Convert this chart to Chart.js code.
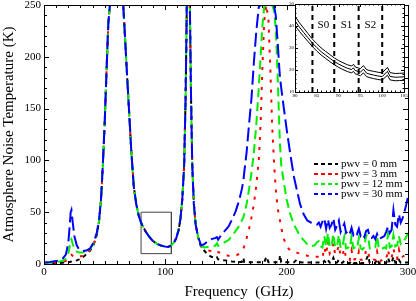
<!DOCTYPE html>
<html>
<head>
<meta charset="utf-8">
<script src="https://cdn.jsdelivr.net/npm/chart.js@4.4.1/dist/chart.umd.min.js"></script>
<style>
  html, body { margin: 0; padding: 0; background: #fff; }
  #wrap { position: relative; width: 416px; height: 301px; }
  #main { position: absolute; left: 0; top: 0; }
  #inset { position: absolute; left: 280px; top: 0; }
</style>
</head>
<body>
<div id="wrap">
  <canvas id="main" width="416" height="301"></canvas>
  <canvas id="inset" width="130" height="104"></canvas>
</div>
<script>
// --- dados do gráfico principal (GHz / K) ---
const freqMain = [0, 5, 10, 15, 18, 20, 21, 22, 22.6, 23.5,
  25, 27, 29, 32, 35, 38, 41, 43.5, 45.5, 47,
  48.5, 50, 51.5, 53, 54.3, 60, 65.3, 66.5, 68, 70,
  72, 74, 76, 78, 80, 82, 84, 86, 88, 90,
  93, 96, 99, 102, 104.5, 107, 109, 111, 112.5, 114,
  115.5, 116.7, 117.7, 120.2, 121.2, 122.2, 123.5, 125, 127, 129.5,
  132, 135, 138, 141, 142.5, 143.5, 146, 149, 152, 155,
  158, 161, 163, 164.3, 165, 167, 169, 171, 173, 175,
  177, 178.5, 180, 181.5, 183.3, 185, 186.5, 188, 189.5, 191,
  192.5, 194, 194.5, 195.5, 197.5, 200, 203, 206, 208.3, 211,
  214, 217, 220, 223, 225];

const pwv0Main = [0.5, 0.6, 0.8, 1.2, 1.5, 1.8, 2, 2.2, 2.3, 2.5,
  2.9, 3.5, 4.5, 6.5, 9.5, 13, 19, 28, 42, 62,
  95, 135, 185, 232, 250, 250, 250, 225, 192, 150,
  108, 75, 58, 47, 40, 35, 31, 27.5, 24.5, 22,
  19.5, 18, 17, 16.5, 17.5, 20.5, 25, 33, 44, 63,
  95, 160, 250, 250, 160, 95, 58, 38, 26, 16,
  13, 9, 7, 5.5, 6.5, 4.5, 4, 3.5, 3, 2.5,
  2.2, 2, 2, 6, 2, 2, 1.8, 1.8, 1.8, 1.8,
  1.8, 1.8, 1.8, 1.8, 7, 1.8, 1.8, 1.8, 1.8, 1.8,
  1.8, 1.8, 8.5, 1.8, 1.8, 1.7, 1.7, 1.6, 4, 1.6,
  1.5, 1.5, 1.5, 1.5, 1.5];

const pwv3Main = [0.8, 1, 1.3, 2, 3, 4.5, 6, 8.5, 9, 8,
  7, 6.5, 7, 8, 10, 13.5, 19, 28, 42, 62,
  95, 135, 185, 232, 250, 250, 250, 225, 192, 150,
  108, 75, 58, 47, 40, 35, 31, 27.5, 24.5, 22,
  19.5, 18, 17, 16.5, 17.5, 20.5, 25, 33, 44, 63,
  95, 160, 250, 250, 160, 95, 58, 38, 26, 17,
  14.5, 13, 12.5, 12, 13, 11.5, 10.5, 9, 8, 7.5,
  8, 10, 13, 15, 17, 25, 34, 45, 58, 76,
  100, 135, 190, 235, 250, 235, 190, 135, 100, 72,
  55, 44, 42, 35, 25, 17, 13, 12, 11, 10,
  9, 8, 7, 7, 7];

const pwv12Main = [1, 1.3, 1.8, 3, 5, 10, 16, 23, 24, 20,
  15, 12, 11, 11, 12, 14.5, 20, 29, 43, 63,
  95, 135, 185, 232, 250, 250, 250, 225, 192, 150,
  108, 75, 58, 47, 40, 35, 31, 27.5, 24.5, 22,
  19.5, 18, 17, 16.5, 17.5, 20.5, 25, 33, 44, 63,
  95, 160, 250, 250, 160, 95, 58, 38, 26, 17.5,
  16, 16.5, 17, 17.5, 20, 17.5, 19, 21, 23, 27,
  32, 37, 42, 45, 48, 58, 72, 88, 108, 135,
  170, 200, 230, 248, 250, 250, 250, 250, 245, 228,
  185, 130, 115, 96, 80, 62, 48, 38, 33, 27,
  23, 19, 17, 18, 21];

const pwv30Main = [1.5, 2, 2.8, 4.5, 9, 20, 34, 50, 52, 42,
  27, 18, 14, 12.5, 13, 15, 21, 30, 44, 63,
  96, 136, 185, 232, 250, 250, 250, 225, 192, 150,
  108, 75, 58, 47, 40, 35, 31, 27.5, 24.5, 22,
  19.5, 18, 17, 16.5, 17.5, 20.5, 25, 33, 44, 63,
  95, 160, 250, 250, 160, 95, 58, 38, 26, 18,
  19, 22, 24, 25, 26, 23.5, 28, 32, 36, 43,
  51, 62, 72, 80, 88, 108, 135, 160, 195, 225,
  248, 250, 250, 250, 250, 250, 250, 250, 250, 240,
  215, 188, 180, 170, 152, 130, 106, 84, 72, 58,
  48, 42, 40, 39, 38];

// --- região ruidosa (linhas de ozônio), 226.5 a 300 GHz ---
const freqNoise = [226.5, 228, 229.5, 231, 232.5, 234, 235.5, 237, 238.5, 240,
  241.5, 243, 244.5, 246, 247.5, 249, 250.5, 252, 253.5, 255,
  256.5, 258, 259.5, 261, 262.5, 264, 265.5, 267, 268.5, 270,
  271.5, 273, 274.5, 276, 277.5, 279, 280.5, 282, 283.5, 285,
  286.5, 288, 289.5, 291, 292.5, 294, 295.5, 297, 298.5, 300];

const pwv0Noise = [1.5, 1.2, 1.2, 3, 1.2, 4, 1.2, 1.5, 6, 1.2,
  1.3, 4, 1.2, 1.2, 3, 1, 1, 1, 3, 1,
  1, 1, 2.5, 1, 1, 1, 4, 8, 1, 1,
  1, 1, 5, 1, 1, 1, 1.2, 1, 6, 1,
  1.2, 7, 1.2, 1.2, 4, 1.2, 1.5, 1.5, 1.5, 1.5];

const pwv3Noise = [7, 5, 6, 16, 9, 22, 10, 13, 20, 9,
  12, 18, 7, 9, 15, 5, 6, 4, 13, 4,
  5, 4, 12, 4, 4, 5, 14, 13, 4, 3,
  4, 4, 12, 4, 3, 4, 5, 4, 14, 5,
  6, 15, 6, 5, 14, 6, 7, 8, 9, 10];

const pwv12Noise = [22, 17, 16, 27, 17, 30, 16, 18, 29, 16,
  17, 28, 15, 17, 26, 15, 16, 15, 27, 15,
  16, 15, 25, 15, 14, 16, 28, 27, 15, 14,
  15, 16, 27, 15, 14, 15, 16, 15, 29, 16,
  17, 28, 17, 18, 27, 19, 20, 23, 26, 30];

const pwv30Noise = [40, 36, 41, 44, 34, 43, 35, 38, 44, 33,
  37, 42, 31, 35, 39, 30, 32, 29, 35, 28,
  31, 29, 34, 27, 29, 26, 32, 33, 26, 25,
  27, 24, 29, 24, 25, 26, 27, 31, 36, 30,
  33, 52, 38, 36, 48, 40, 44, 50, 57, 65];

const pwvLabels = ['pwv = 0 mm', 'pwv = 3 mm', 'pwv = 12 mm', 'pwv = 30 mm'];
const xTickValues = [0, 100, 200, 300];
const yTickValues = [0, 50, 100, 150, 200, 250];

// retângulo de zoom no gráfico principal
const boxFreq = [80, 80, 105, 105, 80];
const boxTemp = [10, 50, 50, 10, 10];

// --- dados do inset (80-105 GHz) ---
const insetFreq = [80, 81, 82, 83, 84, 85, 86, 87, 88, 89,
  90, 91, 92, 93, 93.4, 93.8, 95, 95.7, 96.4, 97,
  98, 99, 100, 101.2, 101.8, 103, 104, 105];
const insetUpper = [44.5, 41.5, 39, 36.5, 34, 32, 30, 28.5, 27, 25.5,
  24.3, 23.3, 22.4, 21.8, 22.6, 21.4, 20.6, 22, 20.2, 19.8,
  19.4, 19, 18.7, 21.2, 18.8, 18.4, 18.5, 18.6];
const insetMiddle = [42.3, 39.5, 37, 34.6, 32.2, 30.2, 28.3, 26.8, 25.3, 23.9,
  22.7, 21.7, 20.8, 20.2, 21, 19.8, 19, 20.4, 18.6, 18.2,
  17.7, 17.3, 17, 19.4, 17.1, 16.7, 16.8, 16.9];
const insetLower = [40.2, 37.6, 35.2, 32.9, 30.6, 28.6, 26.8, 25.3, 23.8, 22.4,
  21.2, 20.2, 19.3, 18.7, 19.4, 18.3, 17.4, 18.7, 17, 16.6,
  16.1, 15.7, 15.4, 17.6, 15.5, 15.1, 15.2, 15.3];
const sbandEdges = [84, 89, 94.6, 100];
const sbandLabels = ['S0', 'S1', 'S2'];

// --- estilo ---
const SERIF = '"Liberation Serif", "Times New Roman", serif';
const seriesColors = ['#000000', '#ff0000', '#00ee00', '#0000ff'];
const seriesDash = [[4, 4], [3, 7], [9, 5], [14, 5]];

const toPoints = (xs, ys) => xs.map((x, i) => ({ x, y: ys[i] }));
const freqAll = freqMain.concat(freqNoise);
const seriesValues = [
  pwv0Main.concat(pwv0Noise),
  pwv3Main.concat(pwv3Noise),
  pwv12Main.concat(pwv12Noise),
  pwv30Main.concat(pwv30Noise)
];

// ticks para dentro nos quatro lados + moldura
function drawFrame(chart, o) {
  const { ctx, chartArea: a, scales: { x, y } } = chart;
  ctx.save();
  ctx.strokeStyle = '#000';
  ctx.lineWidth = o.lineWidth;
  ctx.beginPath();
  const nx = Math.round((x.max - x.min) / o.xMinor);
  for (let i = 0; i <= nx; i++) {
    const v = x.min + i * o.xMinor;
    const px = Math.round(x.getPixelForValue(v)) + 0.5;
    const len = (Math.abs(v / o.xMajor - Math.round(v / o.xMajor)) < 1e-6) ? o.major : o.minor;
    ctx.moveTo(px, a.bottom); ctx.lineTo(px, a.bottom - len);
    ctx.moveTo(px, a.top); ctx.lineTo(px, a.top + len);
  }
  const ny = Math.round((y.max - y.min) / o.yMinor);
  for (let i = 0; i <= ny; i++) {
    const v = y.min + i * o.yMinor;
    const py = Math.round(y.getPixelForValue(v)) + 0.5;
    const len = (Math.abs(v / o.yMajor - Math.round(v / o.yMajor)) < 1e-6) ? o.major : o.minor;
    ctx.moveTo(a.left, py); ctx.lineTo(a.left + len, py);
    ctx.moveTo(a.right, py); ctx.lineTo(a.right - len, py);
  }
  ctx.stroke();
  ctx.strokeRect(Math.round(a.left) + 0.5, Math.round(a.top) + 0.5,
    Math.round(a.right - a.left), Math.round(a.bottom - a.top));
  ctx.restore();
}

const mainDecor = {
  id: 'mainDecor',
  afterDatasetsDraw(chart) {
    drawFrame(chart, { lineWidth: 1, xMinor: 10, xMajor: 100, yMinor: 10, yMajor: 50, major: 5, minor: 3 });
    const ctx = chart.ctx;
    ctx.save();
    // legenda
    ctx.font = '11px ' + SERIF;
    ctx.textBaseline = 'middle';
    ctx.fillStyle = '#000';
    ctx.lineWidth = 2;
    for (let i = 0; i < 4; i++) {
      const ds = chart.data.datasets[i];
      const yy = 164 + i * 10;
      ctx.strokeStyle = ds.borderColor;
      ctx.setLineDash([4, 3]);
      ctx.beginPath();
      ctx.moveTo(314, yy); ctx.lineTo(338, yy);
      ctx.stroke();
      ctx.fillText(ds.label, 341, yy + 0.5);
    }
    ctx.setLineDash([]);
    // título do eixo x
    ctx.font = '15px ' + SERIF;
    ctx.textAlign = 'center';
    ctx.fillText('Frequency  (GHz)', 239, 292);
    ctx.restore();
  }
};

const datasets = seriesValues.map((vals, i) => ({
  label: pwvLabels[i],
  data: toPoints(freqAll, vals),
  borderColor: seriesColors[i],
  borderWidth: 2,
  borderDash: seriesDash[i],
  pointRadius: 0,
  fill: false,
  order: 3 - i
}));
datasets.push({
  label: 'zoom',
  data: toPoints(boxFreq, boxTemp),
  borderColor: '#444',
  borderWidth: 1,
  pointRadius: 0,
  fill: false,
  order: 9
});

new Chart(document.getElementById('main'), {
  type: 'line',
  data: { datasets },
  options: {
    responsive: false,
    animation: false,
    events: [],
    layout: { padding: { top: 5, right: 8, left: 0, bottom: 0 } },
    plugins: { legend: { display: false }, tooltip: { enabled: false } },
    scales: {
      x: {
        type: 'linear', min: 0, max: 300,
        afterBuildTicks: s => { s.ticks = xTickValues.map(v => ({ value: v })); },
        ticks: { color: '#000', font: { family: SERIF, size: 11 }, padding: 2, maxRotation: 0 },
        grid: { display: false, drawTicks: false },
        border: { display: false },
        afterFit: s => { s.height = 37; s.paddingLeft = 0; s.paddingRight = 0; }
      },
      y: {
        type: 'linear', min: 0, max: 250,
        afterBuildTicks: s => { s.ticks = yTickValues.map(v => ({ value: v })); },
        ticks: { color: '#000', font: { family: SERIF, size: 11 }, padding: 3 },
        grid: { display: false, drawTicks: false },
        border: { display: false },
        title: {
          display: true, text: 'Atmosphere Noise Temperature (K)', color: '#000',
          font: { family: SERIF, size: 15 }, padding: { top: 0, bottom: 0 }
        },
        afterFit: s => { s.width = 44; s.paddingTop = 0; s.paddingBottom = 0; }
      }
    }
  },
  plugins: [mainDecor]
});

// --- inset ---
const insetDecor = {
  id: 'insetDecor',
  beforeDatasetsDraw(chart) {
    const { ctx, chartArea: a } = chart;
    ctx.save();
    ctx.fillStyle = '#fff';
    ctx.fillRect(a.left, a.top, a.right - a.left, a.bottom - a.top);
    ctx.restore();
  },
  afterDatasetsDraw(chart) {
    drawFrame(chart, { lineWidth: 1, xMinor: 1, xMajor: 5, yMinor: 2, yMajor: 10, major: 3, minor: 1.5 });
    const { ctx, scales: { x, y } } = chart;
    ctx.save();
    ctx.font = '11px ' + SERIF;
    ctx.fillStyle = '#000';
    ctx.textAlign = 'center';
    ctx.textBaseline = 'middle';
    sbandLabels.forEach((t, i) => {
      const mid = (sbandEdges[i] + sbandEdges[i + 1]) / 2;
      ctx.fillText(t, x.getPixelForValue(mid), y.getPixelForValue(40.5));
    });
    ctx.restore();
  }
};

const insetSets = [insetUpper, insetMiddle, insetLower].map(vals => ({
  data: toPoints(insetFreq, vals),
  borderColor: '#000',
  borderWidth: 1,
  pointRadius: 0,
  fill: false
}));
sbandEdges.forEach(f => insetSets.push({
  data: toPoints([f, f], [10, 50]),
  borderColor: '#000',
  borderWidth: 2,
  borderDash: [5, 4],
  pointRadius: 0,
  fill: false
}));

new Chart(document.getElementById('inset'), {
  type: 'line',
  data: { datasets: insetSets },
  options: {
    responsive: false,
    animation: false,
    events: [],
    layout: { padding: { top: 4, right: 6, left: 0, bottom: 0 } },
    plugins: { legend: { display: false }, tooltip: { enabled: false } },
    scales: {
      x: {
        type: 'linear', min: 80, max: 105,
        ticks: { stepSize: 5, color: '#000', font: { family: SERIF, size: 5 }, padding: 1, maxRotation: 0 },
        grid: { display: false, drawTicks: false },
        border: { display: false },
        afterFit: s => { s.height = 12; s.paddingLeft = 0; s.paddingRight = 0; }
      },
      y: {
        type: 'linear', min: 10, max: 50,
        ticks: { stepSize: 10, color: '#000', font: { family: SERIF, size: 5 }, padding: 1 },
        grid: { display: false, drawTicks: false },
        border: { display: false },
        afterFit: s => { s.width = 15; s.paddingTop = 0; s.paddingBottom = 0; }
      }
    }
  },
  plugins: [insetDecor]
});
</script>
</body>
</html>
